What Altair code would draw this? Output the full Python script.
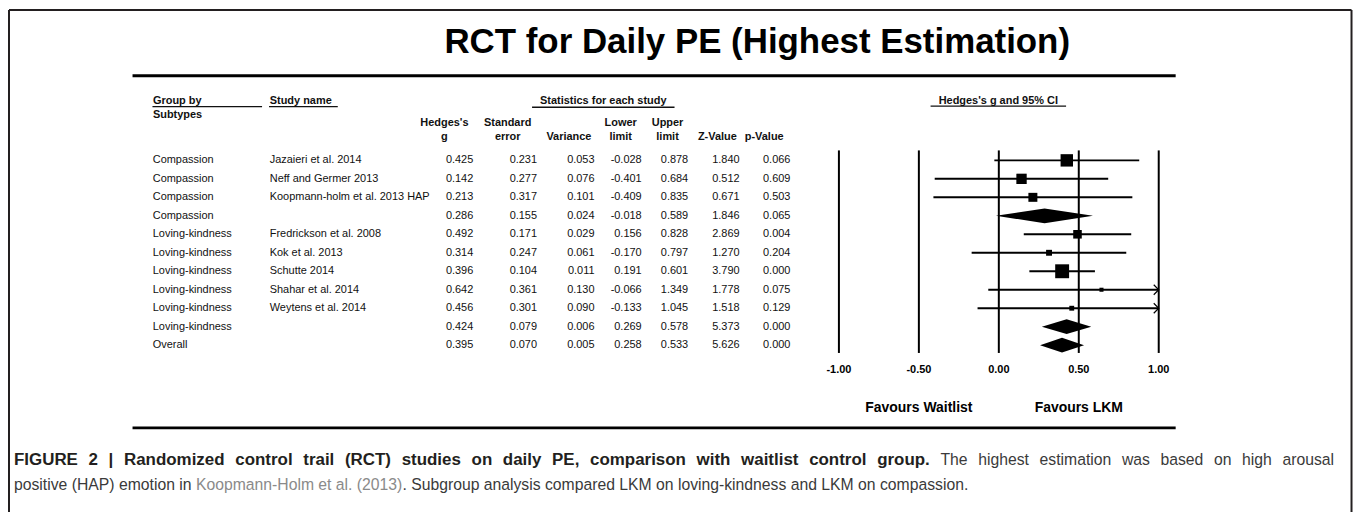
import altair as alt
import pandas as pd

# ------------------------------------------------------------------ data
subtypes = ["Compassion", "Compassion", "Compassion", "Compassion",
            "Loving-kindness", "Loving-kindness", "Loving-kindness", "Loving-kindness",
            "Loving-kindness", "Loving-kindness", "Overall"]
study_names = ["Jazaieri et al. 2014", "Neff and Germer 2013", "Koopmann-holm et al. 2013 HAP", "",
               "Fredrickson et al. 2008", "Kok et al. 2013", "Schutte 2014", "Shahar et al. 2014",
               "Weytens et al. 2014", "", ""]
hedges_g = [0.425, 0.142, 0.213, 0.286, 0.492, 0.314, 0.396, 0.642, 0.456, 0.424, 0.395]
std_err = [0.231, 0.277, 0.317, 0.155, 0.171, 0.247, 0.104, 0.361, 0.301, 0.079, 0.070]
variance = [0.053, 0.076, 0.101, 0.024, 0.029, 0.061, 0.011, 0.130, 0.090, 0.006, 0.005]
lower_limit = [-0.028, -0.401, -0.409, -0.018, 0.156, -0.170, 0.191, -0.066, -0.133, 0.269, 0.258]
upper_limit = [0.878, 0.684, 0.835, 0.589, 0.828, 0.797, 0.601, 1.349, 1.045, 0.578, 0.533]
z_value = [1.840, 0.512, 0.671, 1.846, 2.869, 1.270, 3.790, 1.778, 1.518, 5.373, 5.626]
p_value = [0.066, 0.609, 0.503, 0.065, 0.004, 0.204, 0.000, 0.075, 0.129, 0.000, 0.000]
row_type = ["study", "study", "study", "summary", "study", "study", "study", "study",
            "study", "summary", "summary"]
axis_ticks = [-1.0, -0.5, 0.0, 0.5, 1.0]

title_text = "RCT for Daily PE (Highest Estimation)"
favours_left = "Favours Waitlist"
favours_right = "Favours LKM"
caption_l1_bold = "FIGURE 2 | Randomized control trail (RCT) studies on daily PE, comparison with waitlist control group."
caption_l1_reg = "The highest estimation was based on high arousal"
caption_l2_a = "positive (HAP) emotion in "
caption_l2_link = "Koopmann-Holm et al. (2013)"
caption_l2_b = ". Subgroup analysis compared LKM on loving-kindness and LKM on compassion."

# ------------------------------------------------------------------ layout (chart px)
W, H = 1352, 505
FONT = "Liberation Sans"
ROW0, ROW10 = 152.0, 337.5          # pixel y of row 0 and row 10
XNEG1, XPOS1 = 834.0, 1155.0        # pixel x of -1 and +1
DIAMOND_HALF = 0.40                 # in row units

yscale = alt.Scale(domain=[0, 10], range=[ROW0, ROW10], nice=False, zero=False)
xscale = alt.Scale(domain=[-1, 1], range=[XNEG1, XPOS1], nice=False, zero=False)

df = pd.DataFrame(dict(row=list(range(len(hedges_g))), subtype=subtypes, study=study_names,
                       g=hedges_g, se=std_err, var=variance, lo=lower_limit, hi=upper_limit,
                       z=z_value, p=p_value, kind=row_type))
for c in ["g", "se", "var", "lo", "hi", "z", "p"]:
    df[c + "_s"] = df[c].map(lambda v: f"{v:.3f}")

one = pd.DataFrame({"k": [0]})


def label(text, x, y, size=11, weight="normal", align="left", color="#111111",
          baseline="middle"):
    return alt.Chart(pd.DataFrame({"t": [text]})).mark_text(
        align=align, baseline=baseline, font=FONT, fontSize=size, fontWeight=weight,
        color=color).encode(x=alt.value(x), y=alt.value(y), text="t:N")


def hline(x1, x2, y, w=1.3, color="#111111"):
    return alt.Chart(one).mark_rule(strokeWidth=w, color=color).encode(
        x=alt.value(x1), x2=alt.value(x2), y=alt.value(y))


def vline(x, y1, y2, w=2, color="#231f20"):
    return alt.Chart(one).mark_rule(strokeWidth=w, color=color).encode(
        x=alt.value(x), y=alt.value(y1), y2=alt.value(y2))


layers = []

# frame
layers += [hline(1, 1348.5, 1, 2, "#231f20"), vline(1, 1, H, 2), vline(1348.5, 1, H, 2)]

# title and thick rules
layers.append(label(title_text, 752, 33, size=35, weight="bold", align="center", color="#000000"))
layers += [hline(125, 1172, 67, 3, "#000000"), hline(125, 1172, 420.5, 3, "#000000")]

# group headers
layers += [
    label("Group by", 145.5, 92, weight="bold"), label("Subtypes", 145.5, 106, weight="bold"),
    hline(145, 255, 98, 1.3),
    label("Study name", 262.7, 92, weight="bold"), hline(262, 331, 98, 1.3),
    label("Statistics for each study", 597.5, 92, weight="bold", align="center"),
    hline(526, 669, 98.7, 1.3),
    label("Hedges's g and 95% CI", 994, 92, weight="bold", align="center"),
    hline(926, 1062, 97.5, 1.3),
]

# column headers
col_heads = [("Hedges's", "g", 438), ("Standard", "error", 501.5), ("", "Variance", 563),
             ("Lower", "limit", 615), ("Upper", "limit", 662), ("", "Z-Value", 712),
             ("", "p-Value", 759)]
for l1, l2, cx in col_heads:
    if l1:
        layers.append(label(l1, cx, 114.7, weight="bold", align="center"))
    layers.append(label(l2, cx, 129, weight="bold", align="center"))


def col_text(field, x, align):
    return alt.Chart(df).mark_text(align=align, baseline="middle", font=FONT, fontSize=11,
                                   color="#111111").encode(
        x=alt.value(x), y=alt.Y("row:Q", scale=yscale, axis=None), text=f"{field}:N")


layers.append(col_text("subtype", 145.3, "left"))
layers.append(col_text("study", 262.7, "left"))
for field, xr in [("g_s", 467), ("se_s", 531), ("var_s", 588.7), ("lo_s", 636),
                  ("hi_s", 682.7), ("z_s", 734.3), ("p_s", 785.3)]:
    layers.append(col_text(field, xr, "right"))

# ------------------------------------------------------------------ forest plot
grid = pd.DataFrame({"t": axis_ticks, "lab": [f"{t:.2f}" for t in axis_ticks]})
layers.append(alt.Chart(grid).mark_rule(strokeWidth=2, color="#000000").encode(
    x=alt.X("t:Q", scale=xscale, axis=None), y=alt.value(142), y2=alt.value(345.3)))
layers.append(alt.Chart(grid).mark_text(font=FONT, fontSize=11, fontWeight="bold",
                                        baseline="middle", color="#000000").encode(
    x=alt.X("t:Q", scale=xscale, axis=None), y=alt.value(362), text="lab:N"))

st = df[df.kind == "study"].copy()
st["w"] = 1.0 / st["var"]
st["share"] = st["w"] / st.groupby("subtype")["w"].transform("sum")
st["lo_c"] = st["lo"].clip(-1, 1)
st["hi_c"] = st["hi"].clip(-1, 1)

layers.append(alt.Chart(st).mark_rule(strokeWidth=2, color="#000000").encode(
    x=alt.X("lo_c:Q", scale=xscale, axis=None), x2="hi_c:Q",
    y=alt.Y("row:Q", scale=yscale, axis=None)))
layers.append(alt.Chart(st).mark_point(shape="square", filled=True, opacity=1,
                                       color="#000000", strokeWidth=0).encode(
    x=alt.X("g:Q", scale=xscale, axis=None), y=alt.Y("row:Q", scale=yscale, axis=None),
    size=alt.Size("share:Q", scale=alt.Scale(domain=[0, 1], range=[0, 344], zero=True),
                  legend=None)))

arr = st[st["hi"] > 1]
layers.append(alt.Chart(arr).mark_point(shape="M-1,-1L0,0L-1,1", filled=False, size=100,
                                        strokeWidth=1.2, color="#000000", opacity=1).encode(
    x=alt.X("hi_c:Q", scale=xscale, axis=None), y=alt.Y("row:Q", scale=yscale, axis=None)))

drows = []
for r in df[df.kind == "summary"].itertuples():
    drows += [dict(row=r.row, x=r.lo, ya=r.row, yb=r.row),
              dict(row=r.row, x=r.g, ya=r.row - DIAMOND_HALF, yb=r.row + DIAMOND_HALF),
              dict(row=r.row, x=r.hi, ya=r.row, yb=r.row)]
dia = pd.DataFrame(drows)
layers.append(alt.Chart(dia).mark_area(color="#000000", opacity=1, interpolate="linear").encode(
    x=alt.X("x:Q", scale=xscale, axis=None),
    y=alt.Y("ya:Q", scale=yscale, axis=None, stack=None), y2="yb:Q",
    detail="row:N"))

for txt, xv in [(favours_left, -0.5), (favours_right, 0.5)]:
    layers.append(alt.Chart(pd.DataFrame({"t": [txt]})).mark_text(
        font=FONT, fontSize=14, fontWeight="bold", baseline="middle", color="#000000").encode(
        x=alt.datum(xv, scale=xscale), y=alt.value(401), text="t:N"))

# ------------------------------------------------------------------ caption (justified line 1)
REG = {" ": 278, "(": 333, ")": 333, ",": 278, "-": 333, ".": 278, "|": 260}
BOLD = {" ": 278, "(": 333, ")": 333, ",": 278, "-": 333, ".": 278, "|": 280}
for d in "0123456789":
    REG[d] = 556
    BOLD[d] = 556
REG.update(zip("ABCDEFGHIJKLMNOPQRSTUVWXYZ",
               [667, 667, 722, 722, 667, 611, 778, 722, 278, 500, 667, 556, 833, 722, 778, 667,
                778, 722, 667, 611, 722, 667, 944, 667, 667, 611]))
REG.update(zip("abcdefghijklmnopqrstuvwxyz",
               [556, 556, 500, 556, 556, 278, 556, 556, 222, 222, 500, 222, 833, 556, 556, 556,
                556, 333, 500, 278, 556, 500, 722, 500, 500, 500]))
BOLD.update(zip("ABCDEFGHIJKLMNOPQRSTUVWXYZ",
                [722, 722, 722, 722, 667, 611, 778, 722, 278, 556, 722, 611, 833, 722, 778, 667,
                 778, 722, 667, 611, 722, 667, 944, 667, 667, 611]))
BOLD.update(zip("abcdefghijklmnopqrstuvwxyz",
                [556, 611, 556, 611, 556, 333, 611, 611, 278, 278, 556, 278, 889, 611, 611, 611,
                 611, 389, 556, 333, 611, 556, 778, 556, 556, 500]))


def text_w(s, size, bold=False):
    tb = BOLD if bold else REG
    return sum(tb.get(ch, 556) for ch in s) * size / 1000.0


CAP_SIZE = 15.8
CAP_BOLD_SIZE = 17.0
CAP_X, CAP_X_END = 6, 1331
CAP_Y1, CAP_Y2 = 453, 478
BOLD_COL, CAP_COL, LINK_COL = "#231f20", "#3a3a3a", "#8a8a8a"

words = [(w_, True) for w_ in caption_l1_bold.split()] + \
        [(w_, False) for w_ in caption_l1_reg.split()]


def wsize(b):
    return CAP_BOLD_SIZE if b else CAP_SIZE


natural = sum(text_w(w_, wsize(b), b) for w_, b in words)
gap = (CAP_X_END - CAP_X - natural) / (len(words) - 1)
xc = CAP_X
for w_, b in words:
    layers.append(label(w_, xc, CAP_Y1, size=wsize(b), weight="bold" if b else "normal",
                        color=BOLD_COL if b else CAP_COL))
    xc += text_w(w_, wsize(b), b) + gap

x2l = CAP_X + text_w(caption_l2_a, CAP_SIZE)
x2b = x2l + text_w(caption_l2_link, CAP_SIZE)
layers.append(label(caption_l2_a.strip(), CAP_X, CAP_Y2, size=CAP_SIZE, color=CAP_COL))
layers.append(label(caption_l2_link, x2l, CAP_Y2, size=CAP_SIZE, color=LINK_COL))
layers.append(label(caption_l2_b, x2b, CAP_Y2, size=CAP_SIZE, color=CAP_COL))

chart = alt.layer(*layers).properties(
    width=W, height=H, padding=0,
    autosize=alt.AutoSizeParams(type="none"),
    background="white",
).configure_view(stroke=None)

chart.save("out.html", embed_options={"renderer": "svg", "actions": False})
